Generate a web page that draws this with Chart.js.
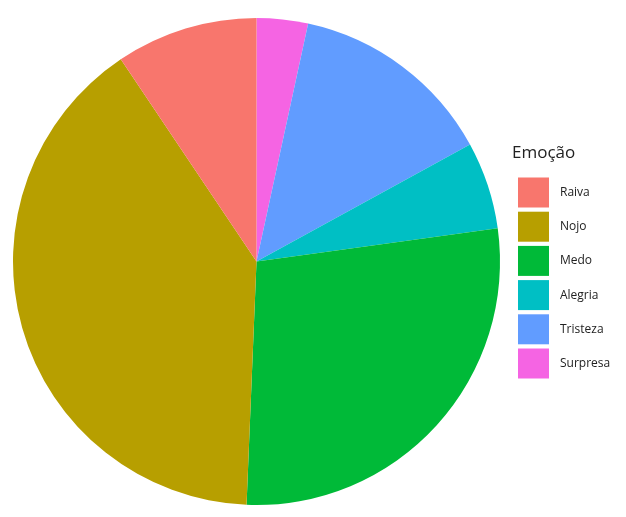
<!DOCTYPE html>
<html><head><meta charset="utf-8">
<script src="https://cdn.jsdelivr.net/npm/chart.js@4"></script>
<style>html,body{margin:0;padding:0;background:#fff}canvas{display:block}</style>
</head><body>
<canvas id="c" width="626" height="517"></canvas>
<script>
// Legend order (top to bottom)
const categories = ["Raiva", "Nojo", "Medo", "Alegria", "Tristeza", "Surpresa"];
const values = [9.4, 39.9, 27.8, 5.8, 13.6, 3.4]; // percent share
const colors = ["#F8766D", "#B79F00", "#00BA38", "#00BFC4", "#619CFF", "#F564E3"];
const legendTitle = "Emoção";

// Pie is drawn clockwise from 12 o'clock in reverse legend order
const pieLabels = categories.slice().reverse();
const pieValues = values.slice().reverse();
const pieColors = colors.slice().reverse();

const legendPlugin = {
  id: 'customLegend',
  afterDraw(chart) {
    const ctx = chart.ctx;
    ctx.save();
    ctx.fillStyle = '#222';
    ctx.font = '17px "Open Sans", "Liberation Sans", sans-serif';
    ctx.textBaseline = 'alphabetic';
    ctx.textAlign = 'left';
    ctx.fillText(legendTitle, 512, 158);
    ctx.font = '12px "Open Sans", "Liberation Sans", sans-serif';
    ctx.textBaseline = 'middle';
    categories.forEach((c, i) => {
      const y = 177.5 + i * 34.2;
      ctx.fillStyle = colors[i];
      ctx.fillRect(518, y, 31, 30);
      ctx.fillStyle = '#222';
      ctx.fillText(c, 560, y + 15);
    });
    ctx.restore();
  }
};

new Chart(document.getElementById('c'), {
  type: 'pie',
  data: {
    labels: pieLabels,
    datasets: [{
      data: pieValues,
      backgroundColor: pieColors,
      borderWidth: 0
    }]
  },
  options: {
    responsive: false,
    animation: false,
    layout: { padding: { left: 13, top: 18, right: 126, bottom: 12 } },
    plugins: { legend: { display: false }, tooltip: { enabled: false } }
  },
  plugins: [legendPlugin]
});
</script>
</body></html>
